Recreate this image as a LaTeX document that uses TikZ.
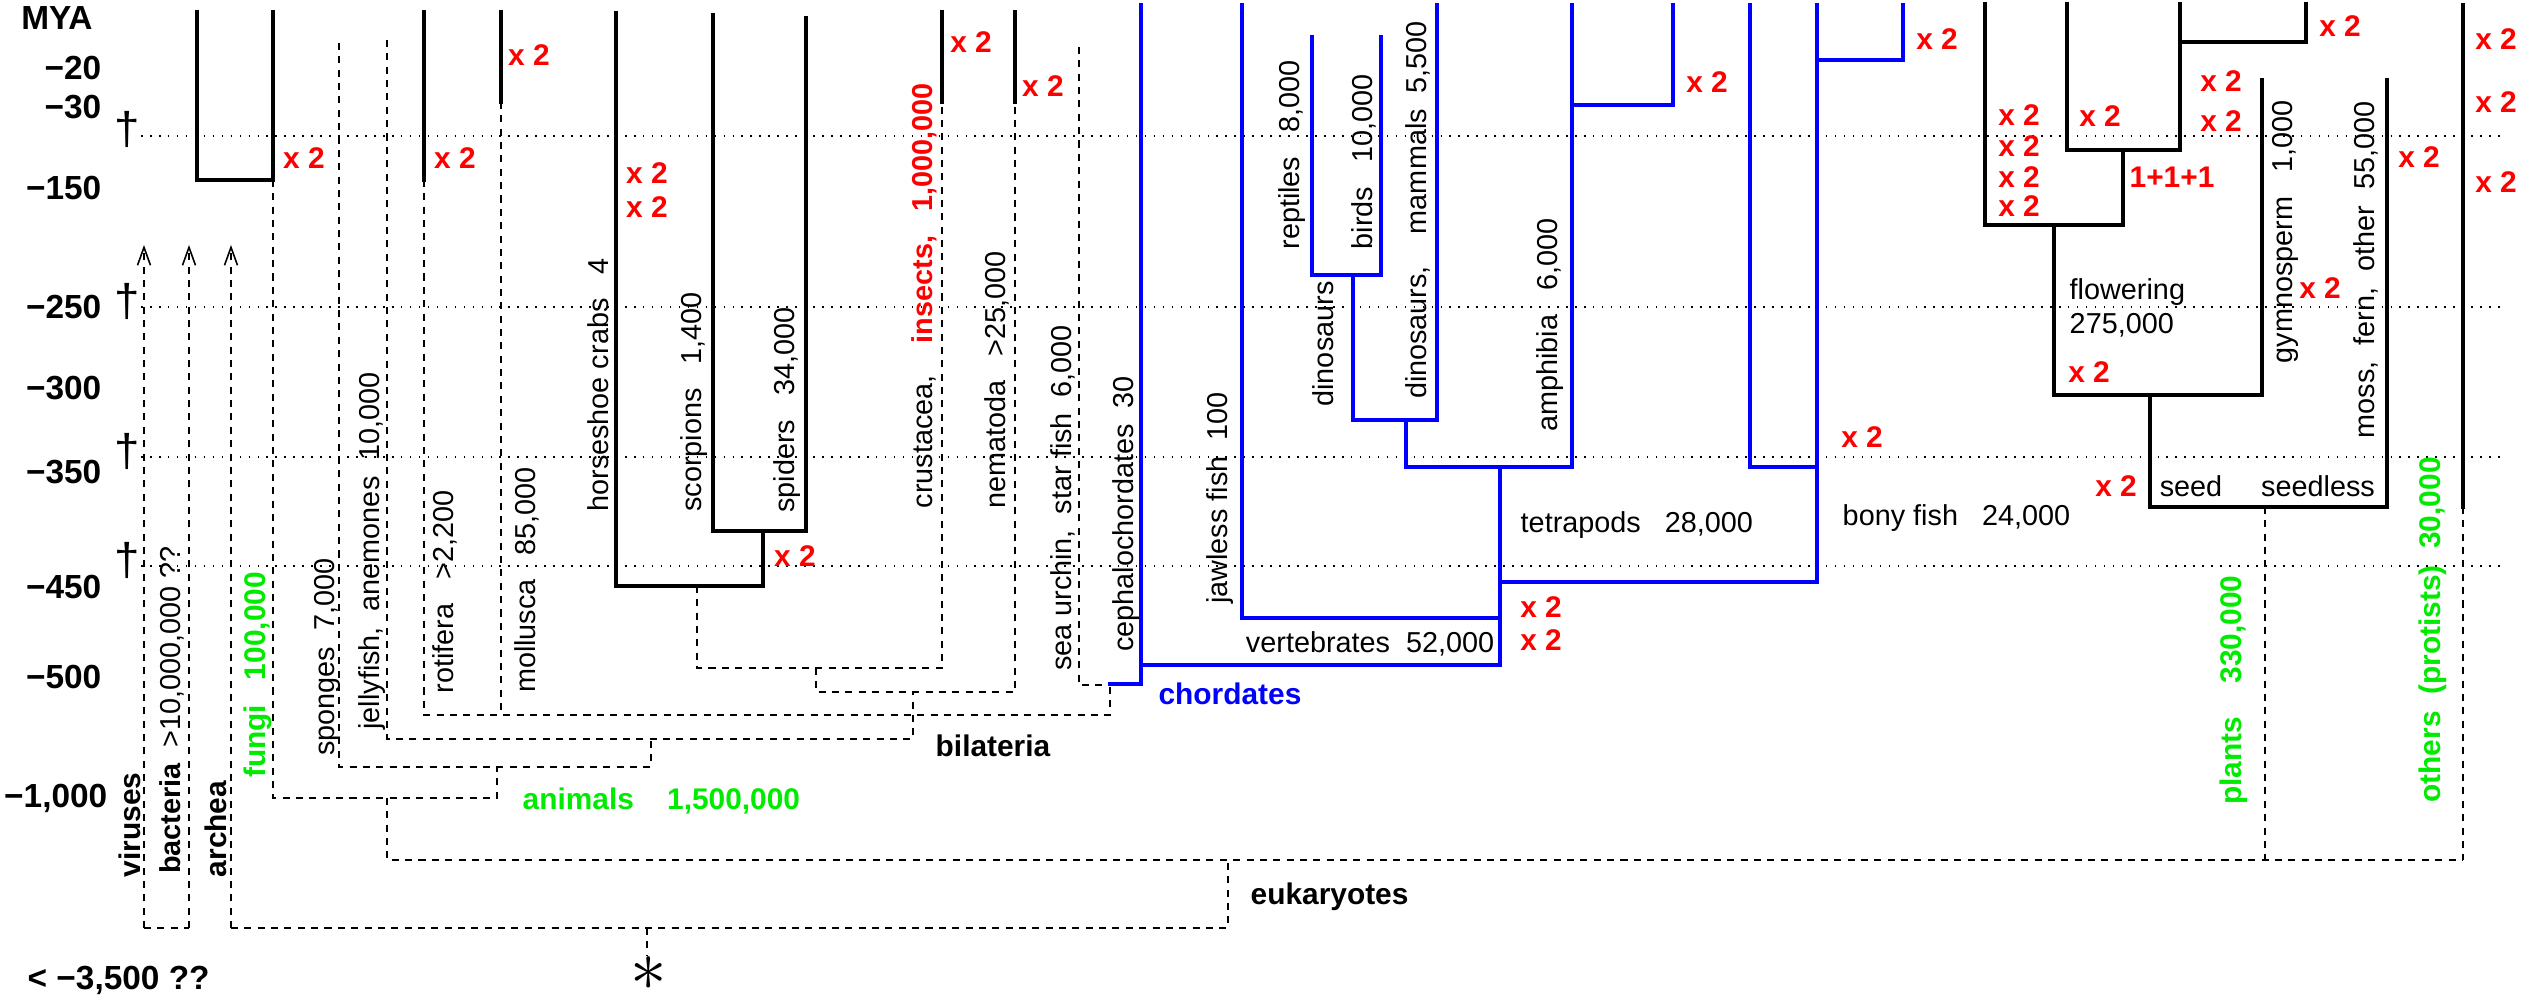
\documentclass[tikz,border=0pt]{standalone}
\usepackage{fontspec}
\setmainfont{Liberation Sans}
\usepackage{tikz}
\usetikzlibrary{arrows.meta}

\definecolor{dupred}{RGB}{255,0,0}
\definecolor{grpgreen}{RGB}{0,235,0}
\definecolor{chordblue}{RGB}{0,0,255}

\begin{document}
\begin{tikzpicture}[x=0.1mm, y=-0.1mm,
    branch/.style={line width=1pt, line cap=rect},
    chord/.style={branch, chordblue},
    link/.style={line width=0.45pt, dash pattern=on 2pt off 1.8pt},
    epoch/.style={line width=0.45pt, dash pattern=on 0.45pt off 2.1pt},
    lab/.style={inner sep=0pt, font=\fontsize{8.2}{9}\selectfont},
    vlab/.style={lab, rotate=90},
    grp/.style={inner sep=0pt, font=\fontsize{8.5}{9}\selectfont\bfseries},
    vgrp/.style={grp, rotate=90},
    dup/.style={inner sep=0pt, text=dupred, font=\fontsize{8.5}{9}\selectfont\bfseries},
    tick/.style={inner sep=0pt, anchor=east, font=\fontsize{9.5}{10}\selectfont\bfseries}]
  \useasboundingbox (0,0) rectangle (2544,1002);

  % Zeitachse
  \node[grp, font=\fontsize{9.5}{10}\selectfont\bfseries] (mya) at (57,18) {MYA};
  \foreach \y/\t in {68/−20, 107/−30, 188/−150, 307/−250, 388/−300, 472/−350, 587/−450, 677/−500} {
    \node[tick] at (102,\y) {\t};
  }
  \node[tick] (kilo) at (108,798) {−1,000};
  \node[tick, anchor=west] (start) at (27,980) {<~−3,500~??};

  % Aussterben
  \foreach \y in {136,307,457,566} {
    \draw[epoch] (141,\y) -- (2503,\y);
    \node[inner sep=0pt, font=\fontsize{13}{13}\selectfont] at (127,\y-6) {\textdagger};
  }

  % Bakterien, Archeen
  \draw[link, -{Straight Barb[length=1.8mm, width=1.3mm]}] (144,928) -- (144,245);
  \draw[link, -{Straight Barb[length=1.8mm, width=1.3mm]}] (189,928) -- (189,245);
  \draw[link, -{Straight Barb[length=1.8mm, width=1.3mm]}] (231,928) -- (231,245);
  \draw[link] (144,928) -- (189,928);
  \draw[link] (231,928) -- (1228,928) -- (1228,860);
  \draw[link] (647,928) -- (647,956);
  \node[inner sep=0pt, font=\fontsize{21}{21}\selectfont] (origin) at (649,974) {$\ast$};

  % Pilze, Tiere
  \draw[branch] (197,12) -- (197,180) -- (273,180) -- (273,12);
  \draw[link] (273,180) -- (273,798) -- (497,798) -- (497,767);
  \draw[link] (387,798) -- (387,860) -- (2463,860);
  \draw[link] (339,43) -- (339,767) -- (651,767) -- (651,739);
  \draw[link] (387,40) -- (387,739) -- (913,739) -- (913,692);
  \draw[branch] (424,12) -- (424,180);
  \draw[branch] (501,12) -- (501,102);
  \draw[link] (424,180) -- (424,715) -- (1110,715) -- (1110,685);
  \draw[link] (501,102) -- (501,715);

  % Gliederfuesser, Nematoden
  \draw[branch] (616,13) -- (616,586) -- (763,586) -- (763,531);
  \draw[branch] (713,15) -- (713,531) -- (806,531) -- (806,18);
  \draw[link] (697,586) -- (697,668) -- (942,668) -- (942,102);
  \draw[branch] (942,12) -- (942,102);
  \draw[link] (816,668) -- (816,692) -- (1015,692) -- (1015,102);
  \draw[branch] (1015,12) -- (1015,102);
  \draw[link] (1079,47) -- (1079,685) -- (1110,685);

  % Chordaten
  \draw[chord] (1110,684) -- (1141,684) -- (1141,5);
  \draw[chord] (1141,665) -- (1500,665) -- (1500,467);
  \draw[chord] (1242,5) -- (1242,618) -- (1500,618);
  \draw[chord] (1500,582) -- (1817,582) -- (1817,5);
  \draw[chord] (1750,5) -- (1750,467) -- (1817,467);
  \draw[chord] (1817,60) -- (1903,60) -- (1903,5);
  \draw[chord] (1406,467) -- (1572,467) -- (1572,5);
  \draw[chord] (1572,105) -- (1673,105) -- (1673,5);
  \draw[chord] (1437,5) -- (1437,420) -- (1353,420) -- (1353,275);
  \draw[chord] (1406,420) -- (1406,467);
  \draw[chord] (1312,37) -- (1312,275) -- (1381,275) -- (1381,37);

  % Pflanzen, Protisten
  \draw[branch] (1985,4) -- (1985,225) -- (2123,225) -- (2123,150);
  \draw[branch] (2067,4) -- (2067,150) -- (2180,150) -- (2180,4);
  \draw[branch] (2180,42) -- (2306,42) -- (2306,4);
  \draw[branch] (2054,225) -- (2054,395) -- (2262,395) -- (2262,80);
  \draw[branch] (2150,395) -- (2150,507) -- (2387,507) -- (2387,80);
  \draw[branch] (2463,5) -- (2463,507);
  \draw[link] (2265,507) -- (2265,860);
  \draw[link] (2463,507) -- (2463,860);

  % Beschriftung senkrecht
  \node[vgrp] (viruses) at (130,825) {viruses};
  \node[vlab] (bacteria) at (172,710) {\textbf{bacteria}~~>10,000,000~??};
  \node[vgrp] (archea) at (216,829) {archea};
  \node[vgrp, text=grpgreen] (fungi) at (258,675) {fungi~~~100,000};
  \node[vlab] (sponges) at (327,657) {sponges~~7,000};
  \node[vlab] (jellyfish) at (372,551) {jellyfish,~~anemones~~10,000};
  \node[vlab] (rotifera) at (445,592) {rotifera~~~>2,200};
  \node[vlab] (mollusca) at (527,580) {mollusca~~~85,000};
  \node[vlab] (horseshoe) at (598,385) {horseshoe crabs~~~4};
  \node[vlab] (scorpions) at (694,402) {scorpions~~~1,400};
  \node[vlab] (spiders) at (787,410) {spiders~~~34,000};
  \node[vlab] (insects) at (924,296) {crustacea,~~~~\textcolor{dupred}{\bfseries insects,~~~1,000,000}};
  \node[vlab] (nematoda) at (997,380) {nematoda~~~>25,000};
  \node[vlab] (urchin) at (1063,498) {sea urchin,~~star fish~~6,000};
  \node[vlab] (cephalo) at (1126,514) {cephalochordates~~30};
  \node[vlab] (jawless) at (1220,498) {jawless fish~~100};
  \node[vlab] (reptiles) at (1292,155) {reptiles~~~8,000};
  \node[vlab] (birds) at (1364,162) {birds~~~10,000};
  \node[vlab] (dinos) at (1323,344) {dinosaurs};
  \node[vlab] (mammals) at (1418,210) {dinosaurs,~~~~mammals~~5,500};
  \node[vlab] (amphibia) at (1550,325) {amphibia~~~6,000};
  \node[vlab] (gymno) at (2285,232) {gymnosperm~~~1,000};
  \node[vlab] (moss) at (2366,270) {moss,~~fern,~~other~~55,000};
  \node[vgrp, text=grpgreen] (plants) at (2234,690) {plants~~~~330,000};
  \node[vgrp, text=grpgreen] (others) at (2433,630) {others~~(protists)~~30,000};

  % Beschriftung waagrecht
  \node[lab, anchor=west] (tetrapods) at (1520,525) {tetrapods~~~28,000};
  \node[lab, anchor=west] (bony) at (1842,518) {bony fish~~~24,000};
  \node[lab, anchor=east] (vertebrates) at (1495,644) {vertebrates~~52,000};
  \node[lab, anchor=west] (flowering) at (2069,292) {flowering};
  \node[lab, anchor=west] (flowernum) at (2069,325) {275,000};
  \node[lab] (seed) at (2191,486) {seed};
  \node[lab] (seedless) at (2318,486) {seedless};
  \node[grp, text=chordblue] (chordates) at (1230,694) {chordates};
  \node[grp, anchor=west] (bilateria) at (935,746) {bilateria};
  \node[grp, anchor=west, text=grpgreen] (animals) at (522,801) {animals~~~~1,500,000};
  \node[grp, anchor=west] (eukaryotes) at (1250,897) {eukaryotes};

  % Verdopplungen
  \foreach \x/\y in {304/158, 455/158, 529/55, 647/173, 647/207, 795/556, 971/42, 1043/86,
      1541/607, 1541/640, 1707/82, 1862/437, 1937/39, 2019/115, 2019/146, 2019/177, 2019/206,
      2100/116, 2221/81, 2221/121, 2089/372, 2320/288, 2419/157, 2340/26, 2496/39, 2496/102,
      2496/182, 2116/486} {
    \node[dup] at (\x,\y) {x~2};
  }
  \node[dup] (triple) at (2172,177) {1+1+1};
\end{tikzpicture}
\end{document}
